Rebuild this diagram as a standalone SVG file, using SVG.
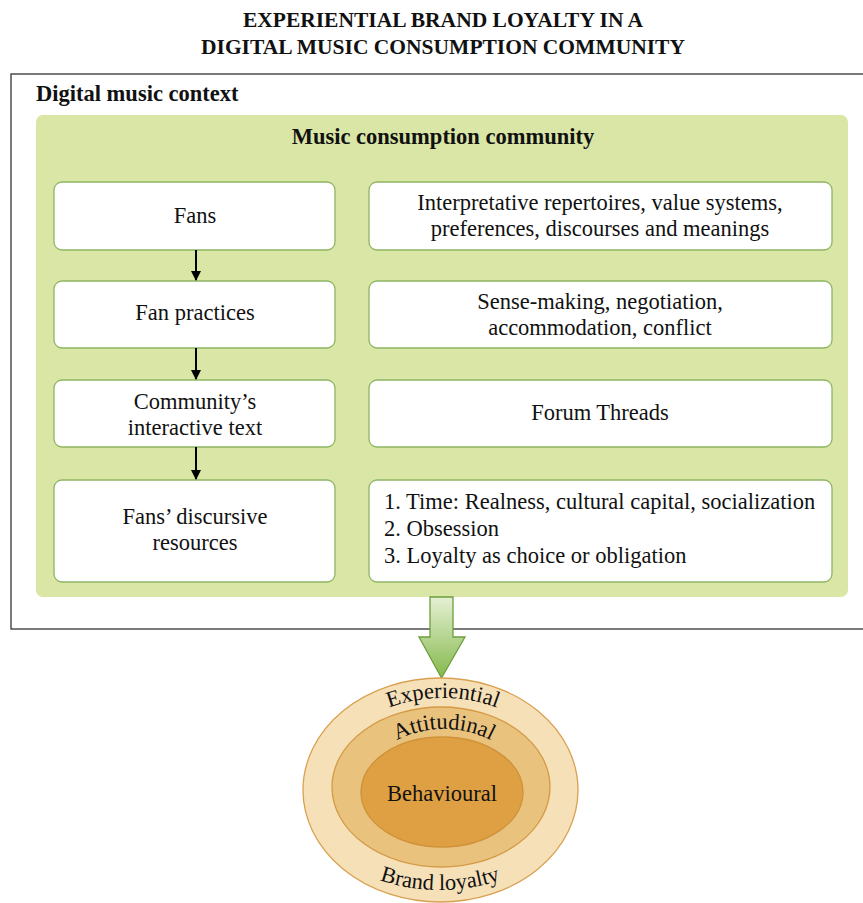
<svg xmlns="http://www.w3.org/2000/svg" width="863" height="903" viewBox="0 0 863 903">
<defs>
<style>
text{font-family:"Liberation Serif","Times New Roman",serif;fill:#111;}
.t{font-size:22.5px;font-weight:bold;}
.b{font-size:22.5px;}
.c{text-anchor:middle;}
.box{fill:#fff;stroke:#8fb563;stroke-width:1.3;}
.conn{stroke:#000;stroke-width:2;fill:none;}
</style>
<marker id="ah" viewBox="0 0 10 10" refX="9" refY="5" markerWidth="5" markerHeight="5" orient="auto" markerUnits="strokeWidth"><path d="M0,0 L10,5 L0,10 z" fill="#000"/></marker>
<linearGradient id="ga" x1="0" y1="0" x2="0" y2="1"><stop offset="0" stop-color="#e6f0d4"/><stop offset="1" stop-color="#84b94c"/></linearGradient>
<path id="pExp" d="M323,788 A120,90 0 0 1 563,788"/>
<path id="pAtt" d="M364,789 A80,60 0 0 1 524,789"/>
<path id="pBr" d="M300,790 A140,100 0 0 0 580,790"/>
</defs>
<rect width="863" height="903" fill="#fff"/>
<g id="title">
<text class="c" x="443" y="27" style="font-size:21.5px;font-weight:bold">EXPERIENTIAL BRAND LOYALTY IN A</text>
<text class="c" x="443" y="54" style="font-size:21.5px;font-weight:bold">DIGITAL MUSIC CONSUMPTION COMMUNITY</text>
</g>
<g id="context">
<rect x="11" y="74" width="870" height="555" fill="#fff" stroke="#333" stroke-width="1.3"/>
<text class="t" x="36" y="101">Digital music context</text>
</g>
<g id="community">
<rect x="36" y="115" width="812" height="482" rx="7" fill="#d9e6a6"/>
<text class="t c" x="443" y="144">Music consumption community</text>
</g>
<g id="fans"><rect class="box" x="54" y="182" width="281" height="68" rx="8"/><text class="b c" x="195" y="223">Fans</text></g>
<g id="repertoires"><rect class="box" x="369" y="182" width="463" height="68" rx="8"/><text class="b c" x="600" y="210">Interpretative repertoires, value systems,</text><text class="b c" x="600" y="236">preferences, discourses and meanings</text></g>
<g id="practices"><rect class="box" x="54" y="281" width="281" height="67" rx="8"/><text class="b c" x="195" y="320">Fan practices</text></g>
<g id="sensemaking"><rect class="box" x="369" y="281" width="463" height="67" rx="8"/><text class="b c" x="600" y="309">Sense-making, negotiation,</text><text class="b c" x="600" y="335">accommodation, conflict</text></g>
<g id="interactive"><rect class="box" x="54" y="380" width="281" height="67" rx="8"/><text class="b c" x="195" y="409">Community’s</text><text class="b c" x="195" y="435">interactive text</text></g>
<g id="forum"><rect class="box" x="369" y="380" width="463" height="67" rx="8"/><text class="b c" x="600" y="420">Forum Threads</text></g>
<g id="discursive"><rect class="box" x="54" y="480" width="281" height="102" rx="8"/><text class="b c" x="195" y="524">Fans’ discursive</text><text class="b c" x="195" y="550">resources</text></g>
<g id="themes"><rect class="box" x="369" y="480" width="463" height="102" rx="8"/><text class="b" x="384" y="509">1. Time: Realness, cultural capital, socialization</text><text class="b" x="384" y="536">2. Obsession</text><text class="b" x="384" y="563">3. Loyalty as choice or obligation</text></g>
<g id="connectors">
<line class="conn" x1="196" y1="250" x2="196" y2="280" marker-end="url(#ah)"/>
<line class="conn" x1="196" y1="348" x2="196" y2="379" marker-end="url(#ah)"/>
<line class="conn" x1="196" y1="447" x2="196" y2="479" marker-end="url(#ah)"/>
<path d="M430,597 L453,597 L453,637 L465,637 L441.5,678 L419,637 L430,637 Z" fill="url(#ga)" stroke="#6c9e3c" stroke-width="1.3"/>
</g>
<g id="loyalty">
<ellipse cx="440.5" cy="790" rx="137.5" ry="112" fill="#f6e0b8" stroke="#d9a050" stroke-width="1.3"/>
<ellipse cx="441" cy="787" rx="109" ry="80" fill="#e9c27e" stroke="#d49a45" stroke-width="1.3"/>
<ellipse cx="442" cy="792" rx="81" ry="55" fill="#dfa043" stroke="#cf9238" stroke-width="1.3"/>
<text class="b c" x="442" y="801">Behavioural</text>
<text class="b"><textPath href="#pExp" startOffset="50%" text-anchor="middle">Experiential</textPath></text>
<text class="b"><textPath href="#pAtt" startOffset="50%" text-anchor="middle">Attitudinal</textPath></text>
<text class="b"><textPath href="#pBr" startOffset="50%" text-anchor="middle">Brand loyalty</textPath></text>
</g>
</svg>
